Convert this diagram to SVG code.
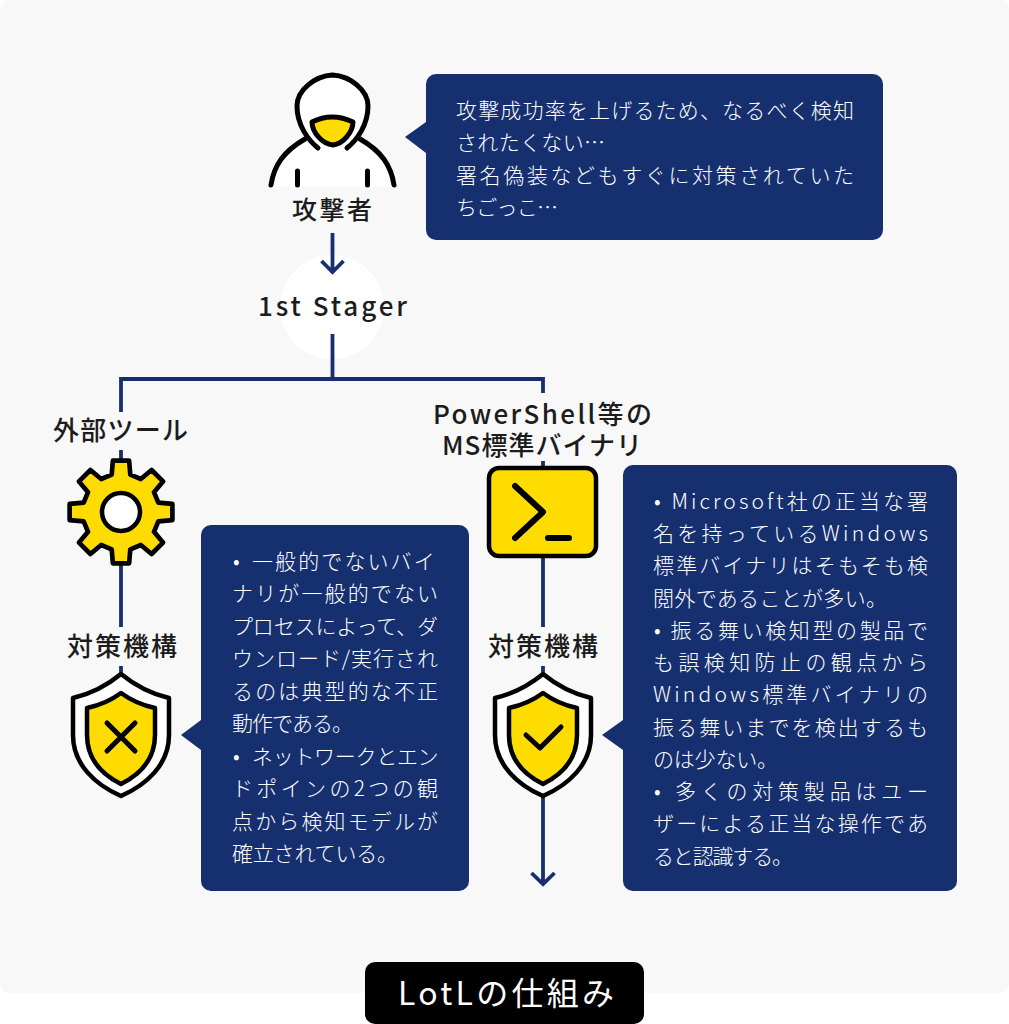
<svg xmlns="http://www.w3.org/2000/svg" width="1009" height="1024" viewBox="0 0 1009 1024">
<style>
text{font-family:"Noto Sans CJK JP","Noto Sans",sans-serif}
.b{font-size:21px;fill:#fff;font-weight:300}
.l{font-size:26px;fill:#1c1c1c;font-weight:500}
.c{fill:none;stroke:#16306f;stroke-width:3.8}
.k{stroke:#000;stroke-width:5;stroke-linecap:round;stroke-linejoin:round}
.s{stroke:#000;stroke-width:4.500;stroke-linejoin:round}
.bub{fill:#16306f}
.y{fill:#ffdc00}
</style>
<rect width="1009" height="1024" fill="#fff"/>
<rect x="0" y="0" width="1009" height="993" rx="10" fill="#f8f8f8"/>
<circle id="stager-bg" cx="332" cy="307" r="52" fill="#fff"/>
<g id="connectors">
<path class="c" d="M332.500 233V272M321.500 261L332.500 272L343.500 261"/>
<path class="c" d="M332.500 334V379M121 412V379H543V393"/>
<path class="c" d="M121 450V460M121 565V627M121 666V675"/>
<path class="c" d="M543 461V468M543 556V627M543 666V675M543 795V884M531.500 873L543 884L554.500 873"/>
</g>
<g id="attacker">
<path d="M271 187C274 165 284 151 305 139L318 148C308 140 297 125 297 106C297 90 315 76 332.500 75C350 76 368 90 368 106C368 125 357 140 347 148L360 139C381 151 391 165 394 187Z" fill="#fff"/>
<path class="k" fill="none" d="M271 185C274 165 284 151 305 139M394 185C391 165 381 151 360 139M318 148C308 140 297 125 297 106C297 90 315 76 332.500 75C350 76 368 90 368 106C368 125 357 140 347 148M297.500 171V185M367.500 171V185"/>
<path class="k y" d="M312 122Q332 112 353 122C353 132 343 144 333 145C322 144 312 132 312 122Z"/>
<text class="l" x="292" y="219" textLength="80" style="font-size:25px">攻撃者</text>
</g>
<g id="attacker-bubble">
<path class="bub" d="M436 74H873A10 10 0 0 1 883 84V230A10 10 0 0 1 873 240H436A10 10 0 0 1 426 230V153L405 137L426 122V84A10 10 0 0 1 436 74Z"/>
<text class="b" x="456" y="117.500" textLength="398">攻撃成功率を上げるため、なるべく検知</text>
<text class="b" x="456" y="149.500" textLength="149">されたくない…</text>
<text class="b" x="456" y="182.500" textLength="398">署名偽装などもすぐに対策されていた</text>
<text class="b" x="456" y="214.500" textLength="102">ちごっこ…</text>
</g>
<g id="stager"><text class="l" x="258" y="316" textLength="149">1st Stager</text></g>
<g id="external-tool">
<text class="l" x="53" y="440" textLength="135">外部ツール</text>
<path transform="translate(121 512) scale(1.04)" class="y s" d="M-8.950-35.900L-7.800-49.400L7.800-49.400L8.950-35.900L19.060-31.700L29.400-40.400L40.400-29.400L31.700-19.060L35.900-8.950L49.400-7.800L49.400 7.800L35.900 8.950L31.700 19.060L40.400 29.400L29.400 40.400L19.060 31.700L8.950 35.900L7.800 49.400L-7.800 49.400L-8.950 35.900L-19.060 31.700L-29.400 40.400L-40.400 29.400L-31.700 19.060L-35.900 8.950L-49.400 7.800L-49.400-7.800L-35.900-8.950L-31.700-19.060L-40.400-29.400L-29.400-40.400L-19.060-31.700Z"/>
<circle cx="121" cy="512" r="19" fill="#fff" class="s"/>
</g>
<g id="ms-binary">
<text class="l" x="433" y="424" textLength="219">PowerShell等の</text>
<text class="l" x="442" y="455" textLength="200">MS標準バイナリ</text>
<rect x="489" y="468" width="107" height="88" rx="10" class="y s"/>
<path fill="none" stroke="#000" stroke-width="6" stroke-linecap="round" stroke-linejoin="round" d="M515 486L543 512L515 538M548 538H569"/>
</g>
<g id="defense-x">
<text class="l" x="67" y="656" textLength="110">対策機構</text>
<path fill="#fff" class="s" d="M121 674Q99 692 73 698V735C73 765 96 785 121 796C146 785 169 765 169 735V698Q143 692 121 674Z"/>
<path class="y s" d="M121 693Q106 704 87 708V735C87 760 103 775 121 784C139 775 155 760 155 735V708Q136 704 121 693Z"/>
<path fill="none" stroke="#000" stroke-width="5" stroke-linecap="round" d="M107 723L135 751M135 723L107 751"/>
</g>
<g id="defense-x-bubble">
<path class="bub" d="M211 525H459A10 10 0 0 1 469 535V881A10 10 0 0 1 459 891H211A10 10 0 0 1 201 881V750L181 735L201 720V535A10 10 0 0 1 211 525Z"/>
<text class="b" x="233" y="569">•<tspan x="252" letter-spacing="2.100">一般的でないバイ</tspan></text>
<text class="b" x="232" y="601" textLength="206">ナリが一般的でない</text>
<text class="b" x="232" y="634" textLength="206">プロセスによって、ダ</text>
<text class="b" x="232" y="666" textLength="206">ウンロード/実行され</text>
<text class="b" x="232" y="699" textLength="206">るのは典型的な不正</text>
<text class="b" x="232" y="731" textLength="121">動作である。</text>
<text class="b" x="233" y="764">•<tspan x="252" letter-spacing="-0.300">ネットワークとエン</tspan></text>
<text class="b" x="232" y="796" textLength="206">ドポインの2つの観</text>
<text class="b" x="232" y="829" textLength="206">点から検知モデルが</text>
<text class="b" x="232" y="861" textLength="166">確立されている。</text>
</g>
<g id="defense-check">
<text class="l" x="488" y="656" textLength="110">対策機構</text>
<path fill="#fff" class="s" d="M543 674Q521 692 495 698V735C495 765 518 785 543 796C568 785 591 765 591 735V698Q565 692 543 674Z"/>
<path class="y s" d="M543 693Q528 704 509 708V735C509 760 525 775 543 784C561 775 577 760 577 735V708Q558 704 543 693Z"/>
<path fill="none" stroke="#000" stroke-width="5" stroke-linecap="round" stroke-linejoin="round" d="M526 735L540 748L561 727"/>
</g>
<g id="defense-check-bubble">
<path class="bub" d="M633 465H947A10 10 0 0 1 957 475V881A10 10 0 0 1 947 891H633A10 10 0 0 1 623 881V750L602 735L623 720V475A10 10 0 0 1 633 465Z"/>
<text class="b" x="654" y="509" textLength="274">• Microsoft社の正当な署</text>
<text class="b" x="653" y="541" textLength="275">名を持っているWindows</text>
<text class="b" x="653" y="573" textLength="275">標準バイナリはそもそも検</text>
<text class="b" x="653" y="606" textLength="234">閲外であることが多い。</text>
<text class="b" x="654" y="638" textLength="274">• 振る舞い検知型の製品で</text>
<text class="b" x="653" y="670" textLength="275">も誤検知防止の観点から</text>
<text class="b" x="653" y="702" textLength="275">Windows標準バイナリの</text>
<text class="b" x="653" y="735" textLength="275">振る舞いまでを検出するも</text>
<text class="b" x="653" y="767" textLength="125">のは少ない。</text>
<text class="b" x="654" y="799" textLength="274">• 多くの対策製品はユー</text>
<text class="b" x="653" y="831" textLength="275">ザーによる正当な操作であ</text>
<text class="b" x="653" y="864" textLength="140">ると認識する。</text>
</g>
<g id="caption">
<rect x="365" y="962" width="279" height="62" rx="10" fill="#000"/>
<text x="398" y="1005" textLength="216" style="font-size:32px;fill:#fff">LotLの仕組み</text>
</g>
</svg>
